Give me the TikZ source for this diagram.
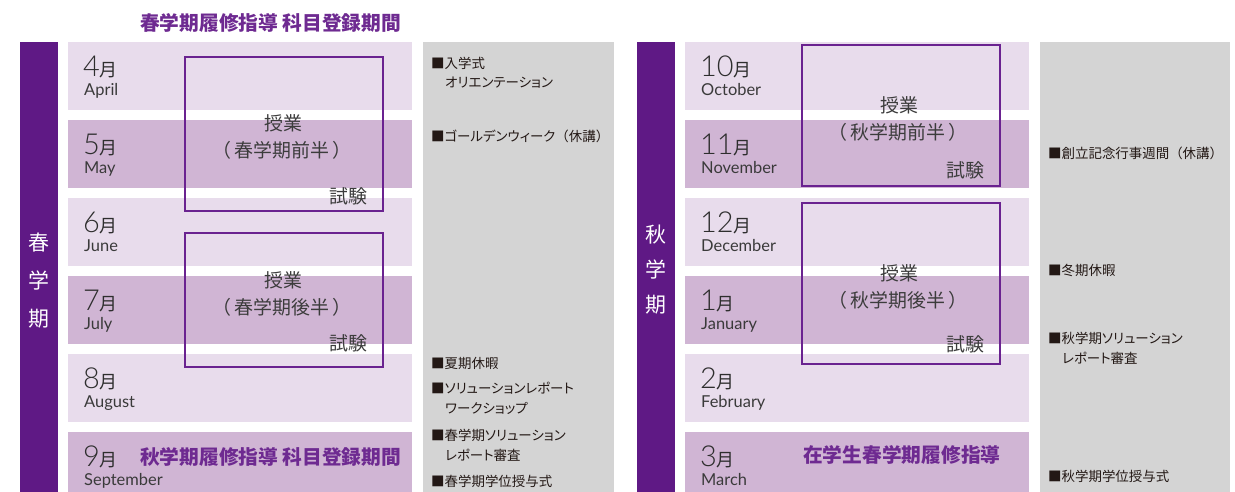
\documentclass[tikz,border=0pt]{standalone}
\usepackage{fontspec}
\setmainfont{Noto Sans CJK JP}
\newfontfamily\jp{Noto Sans CJK JP}
\newfontfamily\jpp{Noto Sans CJK JP}[RawFeature=+palt]
\newfontfamily\enl{Lato}[UprightFont={* Light}]
\newfontfamily\en{Lato}
\definecolor{barpurple}{HTML}{5F1985}
\definecolor{boxpurple}{HTML}{6A2290}
\definecolor{txtpurple}{HTML}{6E2A91}
\definecolor{bandlight}{HTML}{E8DCEC}
\definecolor{banddark}{HTML}{D0B5D4}
\definecolor{colgray}{HTML}{D4D4D4}
\definecolor{evtext}{HTML}{231815}
\definecolor{boxtext}{HTML}{3C3C3C}
\definecolor{monthtext}{HTML}{2E2E2E}
\definecolor{entext}{HTML}{3A3A3A}
\tikzset{
  lightband/.style={fill=bandlight},
  darkband/.style={fill=banddark},
  termbox/.style={draw=boxpurple, line width=2.4bp, minimum width=198bp, inner sep=0pt},
  boxlbl/.style={inner sep=0pt, text=boxtext, font=\jp\fontsize{19}{19}\selectfont},
  evlbl/.style={inner sep=0pt, anchor=west, text=evtext, font=\jpp\fontsize{13.5}{14}\selectfont},
  headlbl/.style={inner sep=0pt, anchor=west, text=txtpurple, font=\jp\bfseries\fontsize{19.8}{20}\selectfont},
  vertlbl/.style={inner sep=0pt, text=white, font=\jp\fontsize{21}{22}\selectfont},
  monthnum/.style={inner sep=0pt, anchor=base west, text=monthtext},
  monthen/.style={inner sep=0pt, anchor=base west, text=entext, font=\en\fontsize{16.5}{17}\selectfont},
}
\newcommand{\mnum}[1]{{\enl\fontsize{29}{29}\selectfont #1}{\jp\fontsize{18}{18}\selectfont 月}}
\newcommand{\paren}[1]{（\kern3bp #1\kern3bp ）}
\newcommand{\evparen}[1]{{\jp（}#1{\jp）}}
\begin{document}
\begin{tikzpicture}[x=1bp,y=-1bp]
\useasboundingbox (0,0) rectangle (1235,492);
\fill[white] (0,0) rectangle (1235,492);
% purple bars
\fill[barpurple] (20,42) rectangle (58,492);
\fill[barpurple] (637,42) rectangle (675,492);
% gray columns
\fill[colgray] (423,42) rectangle (614,492);
\fill[colgray] (1040,42) rectangle (1230,492);
% bands
\foreach \i/\st in {0/lightband,1/darkband,2/lightband,3/darkband,4/lightband,5/darkband}{
  \pgfmathsetmacro{\T}{42+78*\i}
  \pgfmathsetmacro{\B}{min(\T+68.5,492)}
  \path[\st] (68,\T) rectangle (412,\B);
  \path[\st] (685,\T) rectangle (1029,\B);
}
% left months
\foreach \i/\n/\e in {0/4/April,1/5/May,2/6/June,3/7/July,4/8/August,5/9/September}{
  \pgfmathsetmacro{\T}{42+78*\i}
  \node[monthnum] (ml\n) at (83,\T+34.5) {\mnum{\n}};
  \node[monthen] (el\n) at (84,\T+53.5) {\e};
}
% right months
\foreach \i/\n/\e in {0/10/October,1/11/November,2/12/December,3/1/January,4/2/February,5/3/March}{
  \pgfmathsetmacro{\T}{42+78*\i}
  \node[monthnum] (mr\n) at (700,\T+34.5) {\mnum{\n}};
  \node[monthen] (er\n) at (701,\T+53.5) {\e};
}
% vertical term labels
\node[vertlbl] (sp1) at (39,243) {春};
\node[vertlbl] (sp2) at (39,281) {学};
\node[vertlbl] (sp3) at (39,319) {期};
\node[vertlbl] (au1) at (656,235) {秋};
\node[vertlbl] (au2) at (656,270) {学};
\node[vertlbl] (au3) at (656,305) {期};
% term boxes
\node[termbox, minimum height=154bp] (lb1) at (284,134) {};
\node[termbox, minimum height=134bp] (lb2) at (284,300) {};
\node[termbox, minimum height=141bp] (rb1) at (901,115.5) {};
\node[termbox, minimum height=161bp] (rb2) at (901,283.5) {};
\node[boxlbl] (lb1a) at (283,123) {授業};
\node[boxlbl] (lb1b) at (282,150) {\paren{春学期前半}};
\node[boxlbl] (lb1c) at (348,196) {試験};
\node[boxlbl] (lb2a) at (283,280) {授業};
\node[boxlbl] (lb2b) at (282,307) {\paren{春学期後半}};
\node[boxlbl] (lb2c) at (348,343) {試験};
\node[boxlbl] (rb1a) at (899,105) {授業};
\node[boxlbl] (rb1b) at (898,132) {\paren{秋学期前半}};
\node[boxlbl] (rb1c) at (965,170) {試験};
\node[boxlbl] (rb2a) at (899,273) {授業};
\node[boxlbl] (rb2b) at (898,300) {\paren{秋学期後半}};
\node[boxlbl] (rb2c) at (965,344) {試験};
% headings
\node[headlbl] (h1) at (140,23) {春学期履修指導 科目登録期間};
\node[headlbl] (h2) at (140,457) {秋学期履修指導 科目登録期間};
\node[headlbl] (h3) at (803,455) {在学生春学期履修指導};
% events left
\node[evlbl] (e1) at (431,63) {■入学式};
\node[evlbl] (e2) at (445,83) {オリエンテーション};
\node[evlbl] (e3) at (431,136) {■ゴールデンウィーク\evparen{休講}};
\node[evlbl] (e4) at (431,363) {■夏期休暇};
\node[evlbl] (e5) at (431,388) {■ソリューションレポート};
\node[evlbl] (e6) at (445,408) {ワークショップ};
\node[evlbl] (e7) at (431,435) {■春学期ソリューション};
\node[evlbl] (e8) at (445,455) {レポート審査};
\node[evlbl] (e9) at (431,481) {■春学期学位授与式};
% events right
\node[evlbl] (f1) at (1048,153) {■創立記念行事週間\evparen{休講}};
\node[evlbl] (f2) at (1048,270) {■冬期休暇};
\node[evlbl] (f3) at (1048,338) {■秋学期ソリューション};
\node[evlbl] (f4) at (1062,358) {レポート審査};
\node[evlbl] (f5) at (1048,476) {■秋学期学位授与式};
\end{tikzpicture}
\end{document}
